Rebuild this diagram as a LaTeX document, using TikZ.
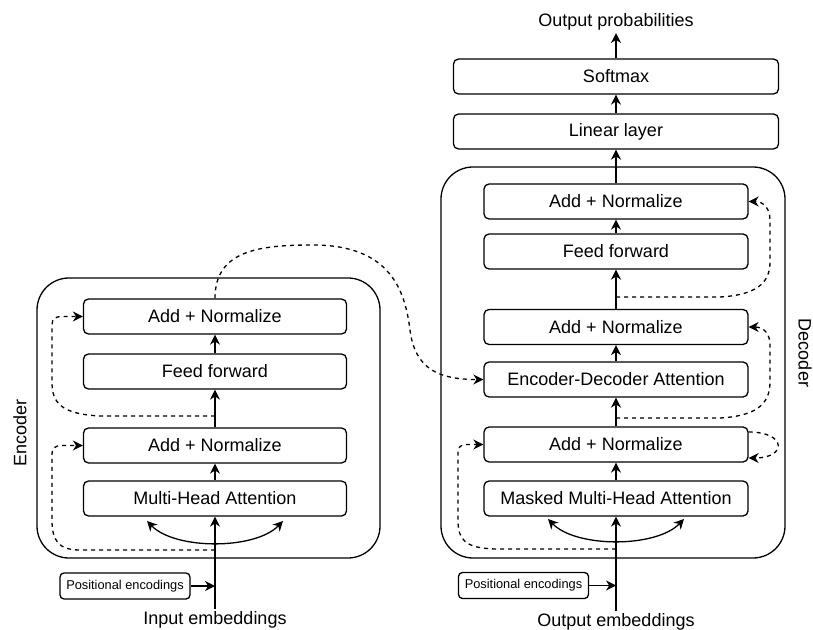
\documentclass[tikz,border=0pt]{standalone}
\usepackage{fontspec}
\setmainfont{Liberation Sans}
\usetikzlibrary{arrows.meta}
\begin{document}
\begin{tikzpicture}[x=0.5pt,y=-0.5pt,
  line width=0.65pt,
  tip/.style={-{Stealth[length=5pt,width=5pt,inset=1.6pt]}},
  twotips/.style={{Stealth[length=5pt,width=5pt,inset=1.6pt]}-{Stealth[length=5pt,width=5pt,inset=1.6pt]}},
  block/.style={draw, rounded corners=2.5pt, minimum height=17.5pt, inner sep=0pt,
    font=\fontsize{9}{10}\selectfont},
  encblock/.style={block, minimum width=131.5pt},
  decblock/.style={block, minimum width=132pt},
  headblock/.style={block, minimum width=162.5pt},
  posenc/.style={draw, rounded corners=2pt, minimum width=65pt, minimum height=13pt,
    inner sep=0pt, font=\fontsize{6.4}{7}\selectfont},
  stack/.style={draw, rounded corners=16pt, inner sep=0pt},
  caption/.style={inner sep=1pt, font=\fontsize{9}{10}\selectfont},
  residual/.style={tip, dashed, dash pattern=on 2pt off 2pt},
]
\useasboundingbox (0,0) rectangle (813,630);

% ---------- Encoder stack ----------
\node[stack, minimum width=171.5pt, minimum height=140pt] (enc) at (208.5,418) {};
\node[caption, rotate=90] (enclabel) at (20,433) {Encoder};
\node[encblock] (enA2) at (215,316.5) {Add + Normalize};
\node[encblock] (enFF) at (215,371.5) {Feed forward};
\node[encblock] (enA1) at (215,445.5) {Add + Normalize};
\node[encblock] (enMHA) at (215,498.5) {Multi-Head Attention};
\node[posenc] (enPE) at (125,586) {Positional encodings};
\node[caption] (inp) at (215,620) {Input embeddings};

\coordinate (enL) at (147,521);
\coordinate (enR) at (283,521);
\coordinate (enRes1) at (215,550);
\coordinate (enRes2) at (215,416);

\draw[tip] (inp.north) -- (enMHA.south);
\draw[tip] (enPE.east) -- (enPE.east -| inp.north);
\draw[twotips] (enL) .. controls (175,550) and (255,550) .. (enR);
\draw[tip] (enMHA.north) -- (enA1.south);
\draw[tip] (enA1.north) -- (enFF.south);
\draw[tip] (enFF.north) -- (enA2.south);
\draw[residual] (enRes1) -- (80,550) .. controls (58,550) and (52,540) .. (52,520)
  -- (52,455) .. controls (52,448) and (55,445.5) .. (62,445.5) -- (enA1.west);
\draw[residual] (enRes2) -- (100,416) .. controls (60,414) and (52,402) .. (52,382)
  -- (52,325) .. controls (52,319) and (55,316.5) .. (62,316.5) -- (enA2.west);

% ---------- Decoder stack ----------
\node[stack, minimum width=172pt, minimum height=195.5pt] (dec) at (613,362.5) {};
\node[caption, rotate=-90] (declabel) at (805,353) {Decoder};
\node[decblock] (decA3) at (616,201.5) {Add + Normalize};
\node[decblock] (decFF) at (616,251.5) {Feed forward};
\node[decblock] (decA2) at (616,327) {Add + Normalize};
\node[decblock] (decEDA) at (616,379.5) {Encoder-Decoder Attention};
\node[decblock] (decA1) at (616,444.5) {Add + Normalize};
\node[decblock] (decMHA) at (616,498.5) {Masked Multi-Head Attention};
\node[posenc] (decPE) at (523.5,585.5) {Positional encodings};
\node[caption] (outp) at (616,622) {Output embeddings};

\coordinate (decL) at (548,519);
\coordinate (decR) at (684,519);
\coordinate (decRes1) at (616,549);
\coordinate (decRes2) at (616,418);
\coordinate (decRes3) at (616,297);

\draw[tip] (outp.north) -- (decMHA.south);
\draw[tip] (decPE.east) -- (decPE.east -| outp.north);
\draw[twotips] (decL) .. controls (576,548) and (656,548) .. (decR);
\draw[tip] (decMHA.north) -- (decA1.south);
\draw[tip] (decA1.north) -- (decEDA.south);
\draw[tip] (decEDA.north) -- (decA2.south);
\draw[tip] (decA2.north) -- (decFF.south);
\draw[tip] (decFF.north) -- (decA3.south);
\draw[residual] (decRes1) -- (495,549) .. controls (465,548) and (458,540) .. (458,520)
  -- (458,452) .. controls (458,447) and (461,444.5) .. (467,444.5) -- (decA1.west);
\draw[residual] (decRes2) -- (720,418) .. controls (755,416) and (770,405) .. (770,382)
  -- (770,345) .. controls (770,334) and (764,327) .. (decA2.east);
\draw[residual] (decRes3) -- (720,297) .. controls (755,295) and (770,284) .. (770,262)
  -- (770,220) .. controls (770,209) and (764,201.5) .. (decA3.east);
\draw[residual] (decA1.east |- 0,432) .. controls (787,432) and (787,458) .. (decA1.east |- 0,458);

% ---------- Output head ----------
\node[headblock] (lin) at (616,131.5) {Linear layer};
\node[headblock] (soft) at (616,76.5) {Softmax};
\node[caption] (prob) at (616,22) {Output probabilities};
\draw[tip] (decA3.north) -- (lin.south);
\draw[tip] (lin.north) -- (soft.south);
\draw[tip] (soft.north) -- (prob.south);

% ---------- Encoder output into the decoder ----------
\draw[residual] (enA2.north) .. controls (215,250) and (260,245) .. (313,245)
  .. controls (390,245) and (405,290) .. (410,330)
  .. controls (415,370) and (440,379.5) .. (decEDA.west);
\end{tikzpicture}
\end{document}
